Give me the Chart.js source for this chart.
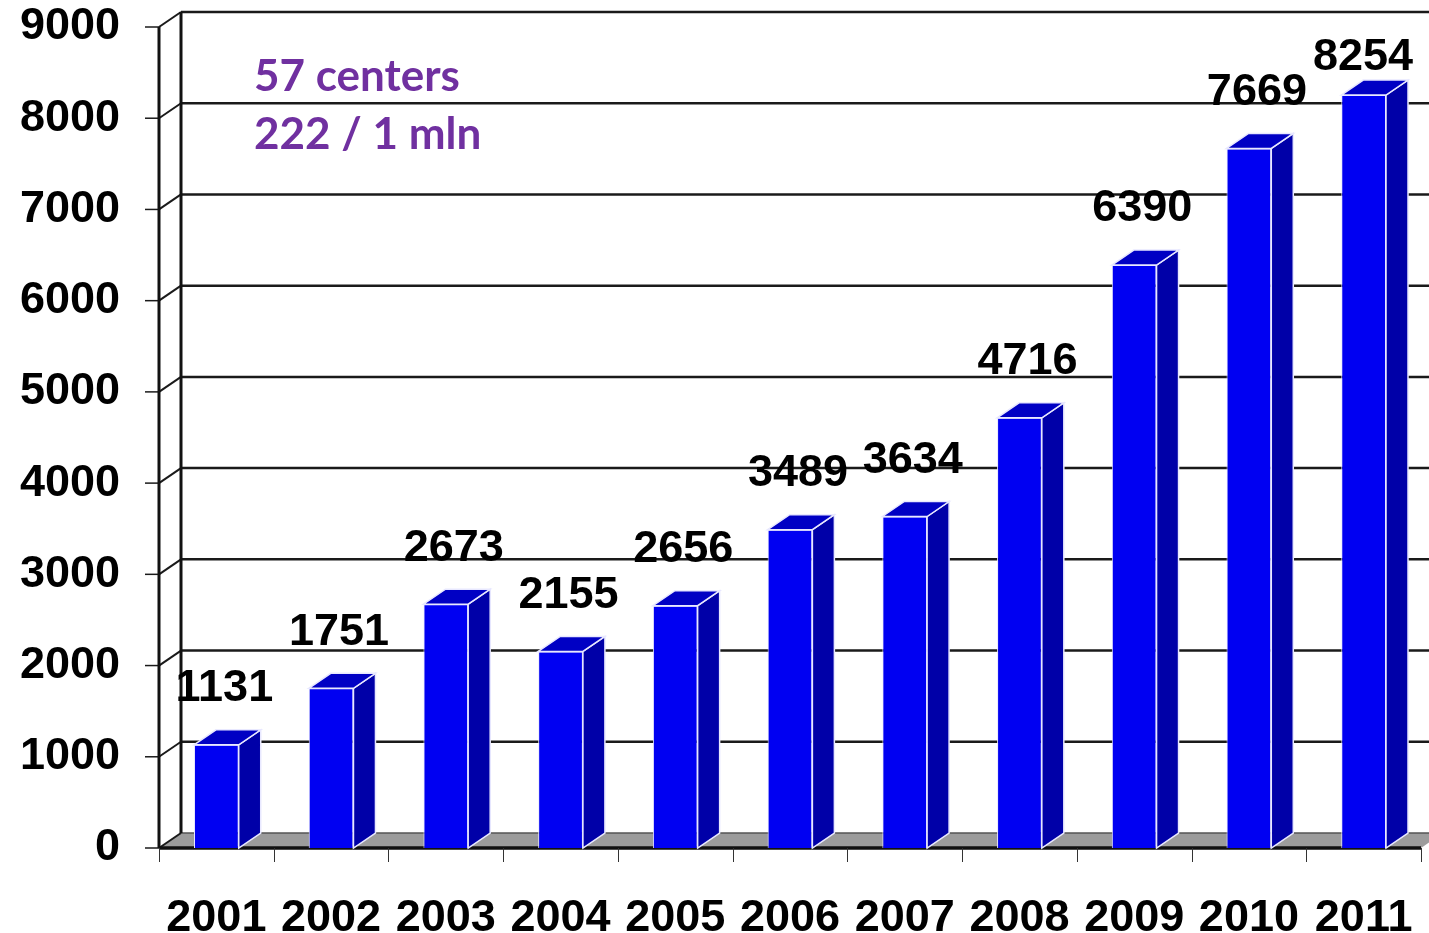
<!DOCTYPE html>
<html>
<head>
<meta charset="utf-8">
<script src="https://cdn.jsdelivr.net/npm/chart.js@4.4.1/dist/chart.umd.min.js"></script>
<style>
  html, body { margin: 0; padding: 0; background: #fff; }
  #wrap { position: relative; width: 1429px; height: 933px; }
  .note { position: absolute; left: 254px; font-family: Lato, "Open Sans", sans-serif; font-weight: bold;
          font-size: 44px; color: #7030A0; line-height: 1; white-space: nowrap; }
</style>
</head>
<body>
<div id="wrap">
  <canvas id="chart"></canvas>
  <div class="note" style="top:52px;">57 centers</div>
  <div class="note" style="top:110px;">222 / 1 mln</div>
</div>
<script>
// values
const years = ['2001', '2002', '2003', '2004', '2005', '2006', '2007', '2008', '2009', '2010', '2011'];
const patients = [1131, 1751, 2673, 2155, 2656, 3489, 3634, 4716, 6390, 7669, 8254];
const yTicks = [0, 1000, 2000, 3000, 4000, 5000, 6000, 7000, 8000, 9000];

// fake 3D depth (pixels)
const DX = 22;
const DY = -15;
const numFont = 'bold 45px "Liberation Sans", Arial, sans-serif';

// back walls + floor, drawn under the bars
const wallsPlugin = {
  id: 'walls',
  beforeDatasetsDraw(chart) {
    const ctx = chart.ctx;
    const y = chart.scales.y;
    const left = chart.chartArea.left, right = chart.chartArea.right;
    const bottom = y.getPixelForValue(0);
    ctx.save();

    // floor
    ctx.fillStyle = '#9c9c9c';
    ctx.beginPath();
    ctx.moveTo(left, bottom);
    ctx.lineTo(right, bottom);
    ctx.lineTo(right + DX, bottom + DY);
    ctx.lineTo(left + DX, bottom + DY);
    ctx.closePath();
    ctx.fill();
    ctx.strokeStyle = '#555';
    ctx.lineWidth = 1.5;
    ctx.beginPath();
    ctx.moveTo(left + DX, bottom + DY);
    ctx.lineTo(right + DX, bottom + DY);
    ctx.stroke();

    // back wall gridlines + left wall diagonals
    yTicks.forEach(v => {
      const py = y.getPixelForValue(v);
      ctx.strokeStyle = '#1a1a1a';
      ctx.lineWidth = 2.5;
      if (v > 0) {
        ctx.beginPath();
        ctx.moveTo(left + DX, py + DY);
        ctx.lineTo(chart.width, py + DY);
        ctx.stroke();
      }
      ctx.lineWidth = 2;
      ctx.beginPath();
      ctx.moveTo(left, py);
      ctx.lineTo(left + DX, py + DY);
      ctx.stroke();
      // tick mark
      ctx.lineWidth = 1.5;
      ctx.beginPath();
      ctx.moveTo(left - 14, py);
      ctx.lineTo(left, py);
      ctx.stroke();
    });

    // wall verticals
    const top = y.getPixelForValue(9000);
    ctx.lineWidth = 3;
    ctx.strokeStyle = '#111';
    ctx.beginPath();
    ctx.moveTo(left, top);
    ctx.lineTo(left, bottom);
    ctx.moveTo(left + DX, top + DY);
    ctx.lineTo(left + DX, bottom + DY);
    ctx.stroke();

    // front floor edge
    ctx.lineWidth = 3.5;
    ctx.beginPath();
    ctx.moveTo(left, bottom);
    ctx.lineTo(right, bottom);
    ctx.stroke();

    // category ticks
    ctx.lineWidth = 1;
    ctx.strokeStyle = '#333';
    const step = (right - left) / years.length;
    for (let i = 0; i <= years.length; i++) {
      const tx = Math.round(left + i * step) + 0.5;
      ctx.beginPath();
      ctx.moveTo(tx, bottom);
      ctx.lineTo(tx, bottom + 14);
      ctx.stroke();
    }
    ctx.restore();
  },
  afterDatasetsDraw(chart) {
    const ctx = chart.ctx;
    const meta = chart.getDatasetMeta(0);
    ctx.save();
    meta.data.forEach((bar, i) => {
      const l = bar.x - bar.width / 2, r = bar.x + bar.width / 2;
      const t = bar.y, b = bar.base;
      ctx.strokeStyle = '#e8e8ff';
      ctx.lineWidth = 1.5;
      // side face
      ctx.fillStyle = '#0000a8';
      ctx.beginPath();
      ctx.moveTo(r, t);
      ctx.lineTo(r + DX, t + DY);
      ctx.lineTo(r + DX, b + DY);
      ctx.lineTo(r, b);
      ctx.closePath();
      ctx.fill();
      ctx.stroke();
      // top face
      ctx.fillStyle = '#0000c4';
      ctx.beginPath();
      ctx.moveTo(l, t);
      ctx.lineTo(l + DX, t + DY);
      ctx.lineTo(r + DX, t + DY);
      ctx.lineTo(r, t);
      ctx.closePath();
      ctx.fill();
      ctx.stroke();
      // value label (kept inside the top of the canvas)
      ctx.fillStyle = '#000';
      ctx.font = numFont;
      ctx.textAlign = 'center';
      ctx.textBaseline = 'middle';
      ctx.fillText(String(patients[i]), Math.min(bar.x + 8, chart.width - 66), Math.max(t - 56, 58));
    });
    ctx.restore();
  }
};

const ctx = document.getElementById('chart').getContext('2d');
new Chart(ctx, {
  type: 'bar',
  data: {
    labels: years,
    datasets: [{
      data: patients,
      backgroundColor: '#0000f2',
      borderColor: '#e8e8ff',
      borderWidth: 1,
      barPercentage: 0.39,
      categoryPercentage: 1.0
    }]
  },
  options: {
    responsive: true,
    maintainAspectRatio: false,
    animation: false,
    layout: { padding: { left: 0, right: 8, top: 27, bottom: 0 } },
    plugins: {
      legend: { display: false },
      tooltip: { enabled: false }
    },
    scales: {
      x: {
        grid: { display: false },
        border: { display: false },
        ticks: {
          color: '#000',
          padding: 36,
          maxRotation: 0,
          autoSkip: false,
          font: { family: '"Liberation Sans", Arial, sans-serif', weight: 'bold', size: 45 }
        },
        afterFit: s => { s.height = 85; s.paddingLeft = 0; s.paddingRight = 0; }
      },
      y: {
        min: 0,
        max: 9000,
        grid: { display: false },
        border: { display: false },
        ticks: {
          stepSize: 1000,
          color: '#000',
          padding: 31,
          callback: v => String(v),
          font: { family: '"Liberation Sans", Arial, sans-serif', weight: 'bold', size: 45 }
        },
        afterFit: s => { s.width = 159; s.paddingTop = 0; s.paddingBottom = 0; }
      }
    }
  },
  plugins: [wallsPlugin]
});
</script>
</body>
</html>
